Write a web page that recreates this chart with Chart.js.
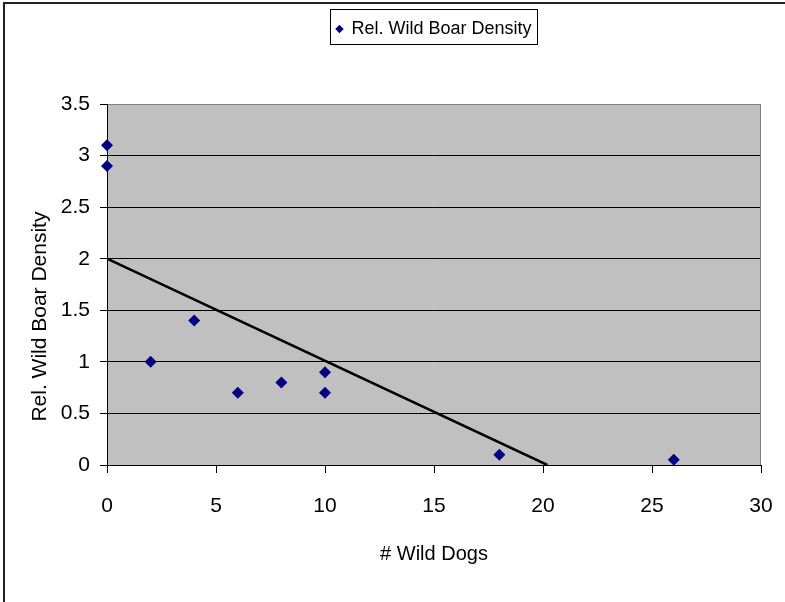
<!DOCTYPE html>
<html>
<head>
<meta charset="utf-8">
<title>Rel. Wild Boar Density</title>
<script src="https://cdn.jsdelivr.net/npm/chart.js@4/dist/chart.umd.min.js"></script>
<style>
  html, body { margin: 0; padding: 0; background: #fff; }
  #wrap { width: 785px; height: 602px; position: relative; }
</style>
</head>
<body>
<div id="wrap"><canvas id="chart-scatter" width="785" height="602"></canvas></div>
<script>
//=================================================================
// DATA
//=================================================================
const wildDogs = [0, 0, 2, 4, 6, 8, 10, 10, 18, 26];             // eixo x
const boarDensity = [3.1, 2.9, 1.0, 1.4, 0.7, 0.8, 0.9, 0.7, 0.1, 0.05]; // eixo y
const trendX = [0, 20.2];   // linha de tendencia (inicio / fim)
const trendY = [2, 0];
const xTicks = [0, 5, 10, 15, 20, 25, 30];
const yTicks = [0, 0.5, 1, 1.5, 2, 2.5, 3, 3.5];

const FONT = "'Liberation Sans', Arial, sans-serif";
Chart.defaults.font.family = FONT;
Chart.defaults.color = '#000';

//=================================================================
// PLUGIN - fundo cinza, moldura e caixa da legenda
//=================================================================
const excelLook = {
    id: 'excelLook',
    beforeDraw(chart) {
        const {ctx, chartArea: a} = chart;
        ctx.save();
        ctx.fillStyle = '#c0c0c0';
        ctx.fillRect(a.left, a.top, a.right - a.left, a.bottom - a.top);
        // moldura externa (esquerda e topo)
        ctx.strokeStyle = '#222';
        ctx.lineWidth = 2;
        ctx.beginPath();
        ctx.moveTo(4, 602);
        ctx.lineTo(4, 3);
        ctx.lineTo(785, 3);
        ctx.stroke();
        ctx.restore();
    },
    beforeDatasetsDraw(chart) {
        const {ctx, chartArea: a} = chart;
        ctx.save();
        ctx.strokeStyle = '#808080';
        ctx.lineWidth = 1;
        ctx.beginPath();
        ctx.moveTo(a.right - 0.5, a.top);
        ctx.lineTo(a.right - 0.5, a.bottom);
        ctx.stroke();
        ctx.restore();
    },
    afterDraw(chart) {
        const hb = chart.legend.legendHitBoxes[0];
        if (!hb) return;
        const ctx = chart.ctx;
        ctx.save();
        ctx.strokeStyle = '#000';
        ctx.lineWidth = 1;
        ctx.strokeRect(Math.round(hb.left) - 5.5, 9.5, Math.round(hb.width) + 12, 35);
        ctx.restore();
    }
};

//=================================================================
// CHART SCATTER
//=================================================================
const chartScatter = document.getElementById('chart-scatter');

new Chart(chartScatter, {
    type: 'scatter',
    data: {
        datasets: [{
            label: 'Rel. Wild Boar Density',
            data: wildDogs.map((x, i) => ({x: x, y: boarDensity[i]})),
            pointStyle: 'rectRot',
            pointRadius: 6,
            pointHoverRadius: 6,
            backgroundColor: '#000080',
            borderColor: '#000080',
            borderWidth: 0,
            clip: false,
            order: 1
        }, {
            type: 'line',
            label: 'trend',
            data: trendX.map((x, i) => ({x: x, y: trendY[i]})),
            borderColor: '#000',
            borderWidth: 2.5,
            pointRadius: 0,
            fill: false,
            order: 2
        }]
    },
    options: {
        responsive: false,
        animation: false,
        layout: { padding: { top: 10, right: 24, bottom: 0, left: 0 } },
        plugins: {
            tooltip: { enabled: false },
            legend: {
                position: 'top',
                fullSize: false,
                weight: 3000,
                labels: {
                    usePointStyle: true,
                    boxWidth: 6,
                    boxHeight: 6,
                    padding: 10,
                    color: '#000',
                    font: { size: 18 },
                    filter: item => item.datasetIndex === 0
                }
            },
            // espaco vazio entre a legenda e o grafico
            title: { display: true, text: '', font: { size: 10 }, padding: { top: 0, bottom: 44 } }
        },
        scales: {
            x: {
                type: 'linear',
                min: 0,
                max: 30,
                afterBuildTicks: s => { s.ticks = xTicks.map(v => ({value: v})); },
                afterFit: s => { s.height = 137; s.paddingRight = 0; },
                ticks: { padding: 21, font: { size: 21 }, color: '#000', maxRotation: 0, callback: v => String(v) },
                grid: { drawOnChartArea: false, drawTicks: true, tickLength: 8, tickColor: '#000' },
                border: { color: '#000', width: 1 },
                title: { display: true, text: '# Wild Dogs', font: { size: 20 }, color: '#000', padding: { top: 0, bottom: 36 } }
            },
            y: {
                type: 'linear',
                min: 0,
                max: 3.5,
                afterBuildTicks: s => { s.ticks = yTicks.map(v => ({value: v})); },
                afterFit: s => { s.width = 107; },
                ticks: { padding: 10, font: { size: 21 }, color: '#000', callback: v => String(v) },
                grid: {
                    color: c => (c.tick && c.tick.value === 3.5) ? '#808080' : '#000',
                    lineWidth: 1,
                    tickLength: 7,
                    tickColor: '#000'
                },
                border: { color: '#000', width: 1 },
                title: { display: true, text: 'Rel. Wild Boar Density           ', font: { size: 21 }, color: '#000', padding: { top: 28, bottom: 0 } }
            }
        }
    },
    plugins: [excelLook]
});
</script>
</body>
</html>
